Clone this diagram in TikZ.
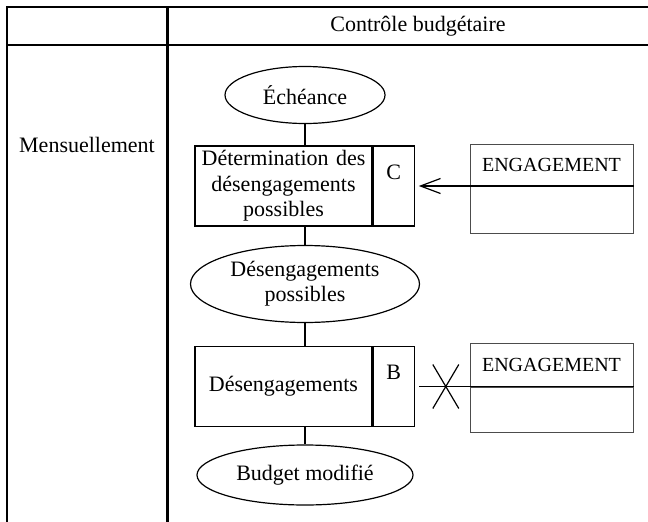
\documentclass[tikz,border=0pt]{standalone}
\usepackage{fontspec}
\setmainfont{Liberation Serif}
\usetikzlibrary{arrows.meta,positioning,shapes.geometric,calc}

\begin{document}
\begin{tikzpicture}[x=1pt, y=-1pt,
  evt/.style={ellipse, draw, line width=1.2pt, inner sep=0pt, align=center, font=\fontsize{22}{25}\selectfont},
  proc/.style={rectangle, draw, line width=1.2pt, minimum width=177pt, minimum height=80pt, text width=170pt, inner xsep=3.5pt, align=center, font=\fontsize{22}{25.5}\selectfont},
  tag/.style={rectangle, draw, line width=1.2pt, minimum width=41pt, inner ysep=5pt, text height=28pt, text depth=42pt, font=\fontsize{22}{26}\selectfont},
  ent/.style={rectangle, draw=black!70, line width=1pt, minimum width=163pt, font=\fontsize{20}{24}\selectfont},
  lane/.style={font=\fontsize{22}{26}\selectfont},
  lien/.style={line width=1.2pt},
  fleche/.style={-{Straight Barb[length=20pt, width=15pt]}, line width=1.2pt, shorten >=4pt},
]
  \useasboundingbox (0,0) rectangle (648,522);

  \draw[line width=1.5pt] (7,522) -- (7,7) -- (648,7);
  \draw[line width=1.5pt] (7,45) -- (648,45);
  \draw[line width=3pt] (167,7) -- (167,522);
  \node[lane] (titre) at (418,26) {Contrôle budgétaire};
  \node[lane] (periode) at (87,145) {Mensuellement};

  \node[evt, minimum width=160pt, minimum height=57pt] (echeance) at (305,95) {Échéance};
  \node[proc] (determ) at (283.5,186) {Détermination des\\désengagements\\possibles};
  \node[tag, anchor=north west] (determc) at (determ.north east) {C};
  \node[evt, minimum width=229pt, minimum height=77pt] (possibles) at (305,284) {Désengagements\\possibles};
  \node[proc] (deseng) at (283.5,386.5) {Désengagements};
  \node[tag, anchor=north west] (desengb) at (deseng.north east) {B};
  \node[evt, minimum width=216pt, minimum height=60pt] (budget) at (305,475) {Budget modifié};

  \node[ent, minimum height=41pt, anchor=south] (eng1) at (551.5,186) {ENGAGEMENT};
  \node[ent, minimum height=47pt, below=0pt of eng1] (eng1b) {};
  \node[ent, minimum height=43pt, anchor=south] (eng2) at (551.5,386.5) {ENGAGEMENT};
  \node[ent, minimum height=45pt, below=0pt of eng2] (eng2b) {};

  \draw[lien] (echeance.south) -- (echeance.south |- determ.north);
  \draw[lien] (possibles.north |- determ.south) -- (possibles.north);
  \draw[lien] (possibles.south) -- (possibles.south |- deseng.north);
  \draw[lien] (budget.north |- deseng.south) -- (budget.north);

  \draw[fleche] (eng1.south east) -- (determc.east |- eng1.south);
  \draw[lien] (eng2.south east) -- ($(desengb.east |- eng2.south)+(4,0)$);
  \coordinate (croix) at ($(desengb.east |- eng2.south)+(31,0)$);
  \draw[lien] (croix) +(-13,-22) -- +(13,22) (croix) +(-13,22) -- +(13,-22);
\end{tikzpicture}
\end{document}
